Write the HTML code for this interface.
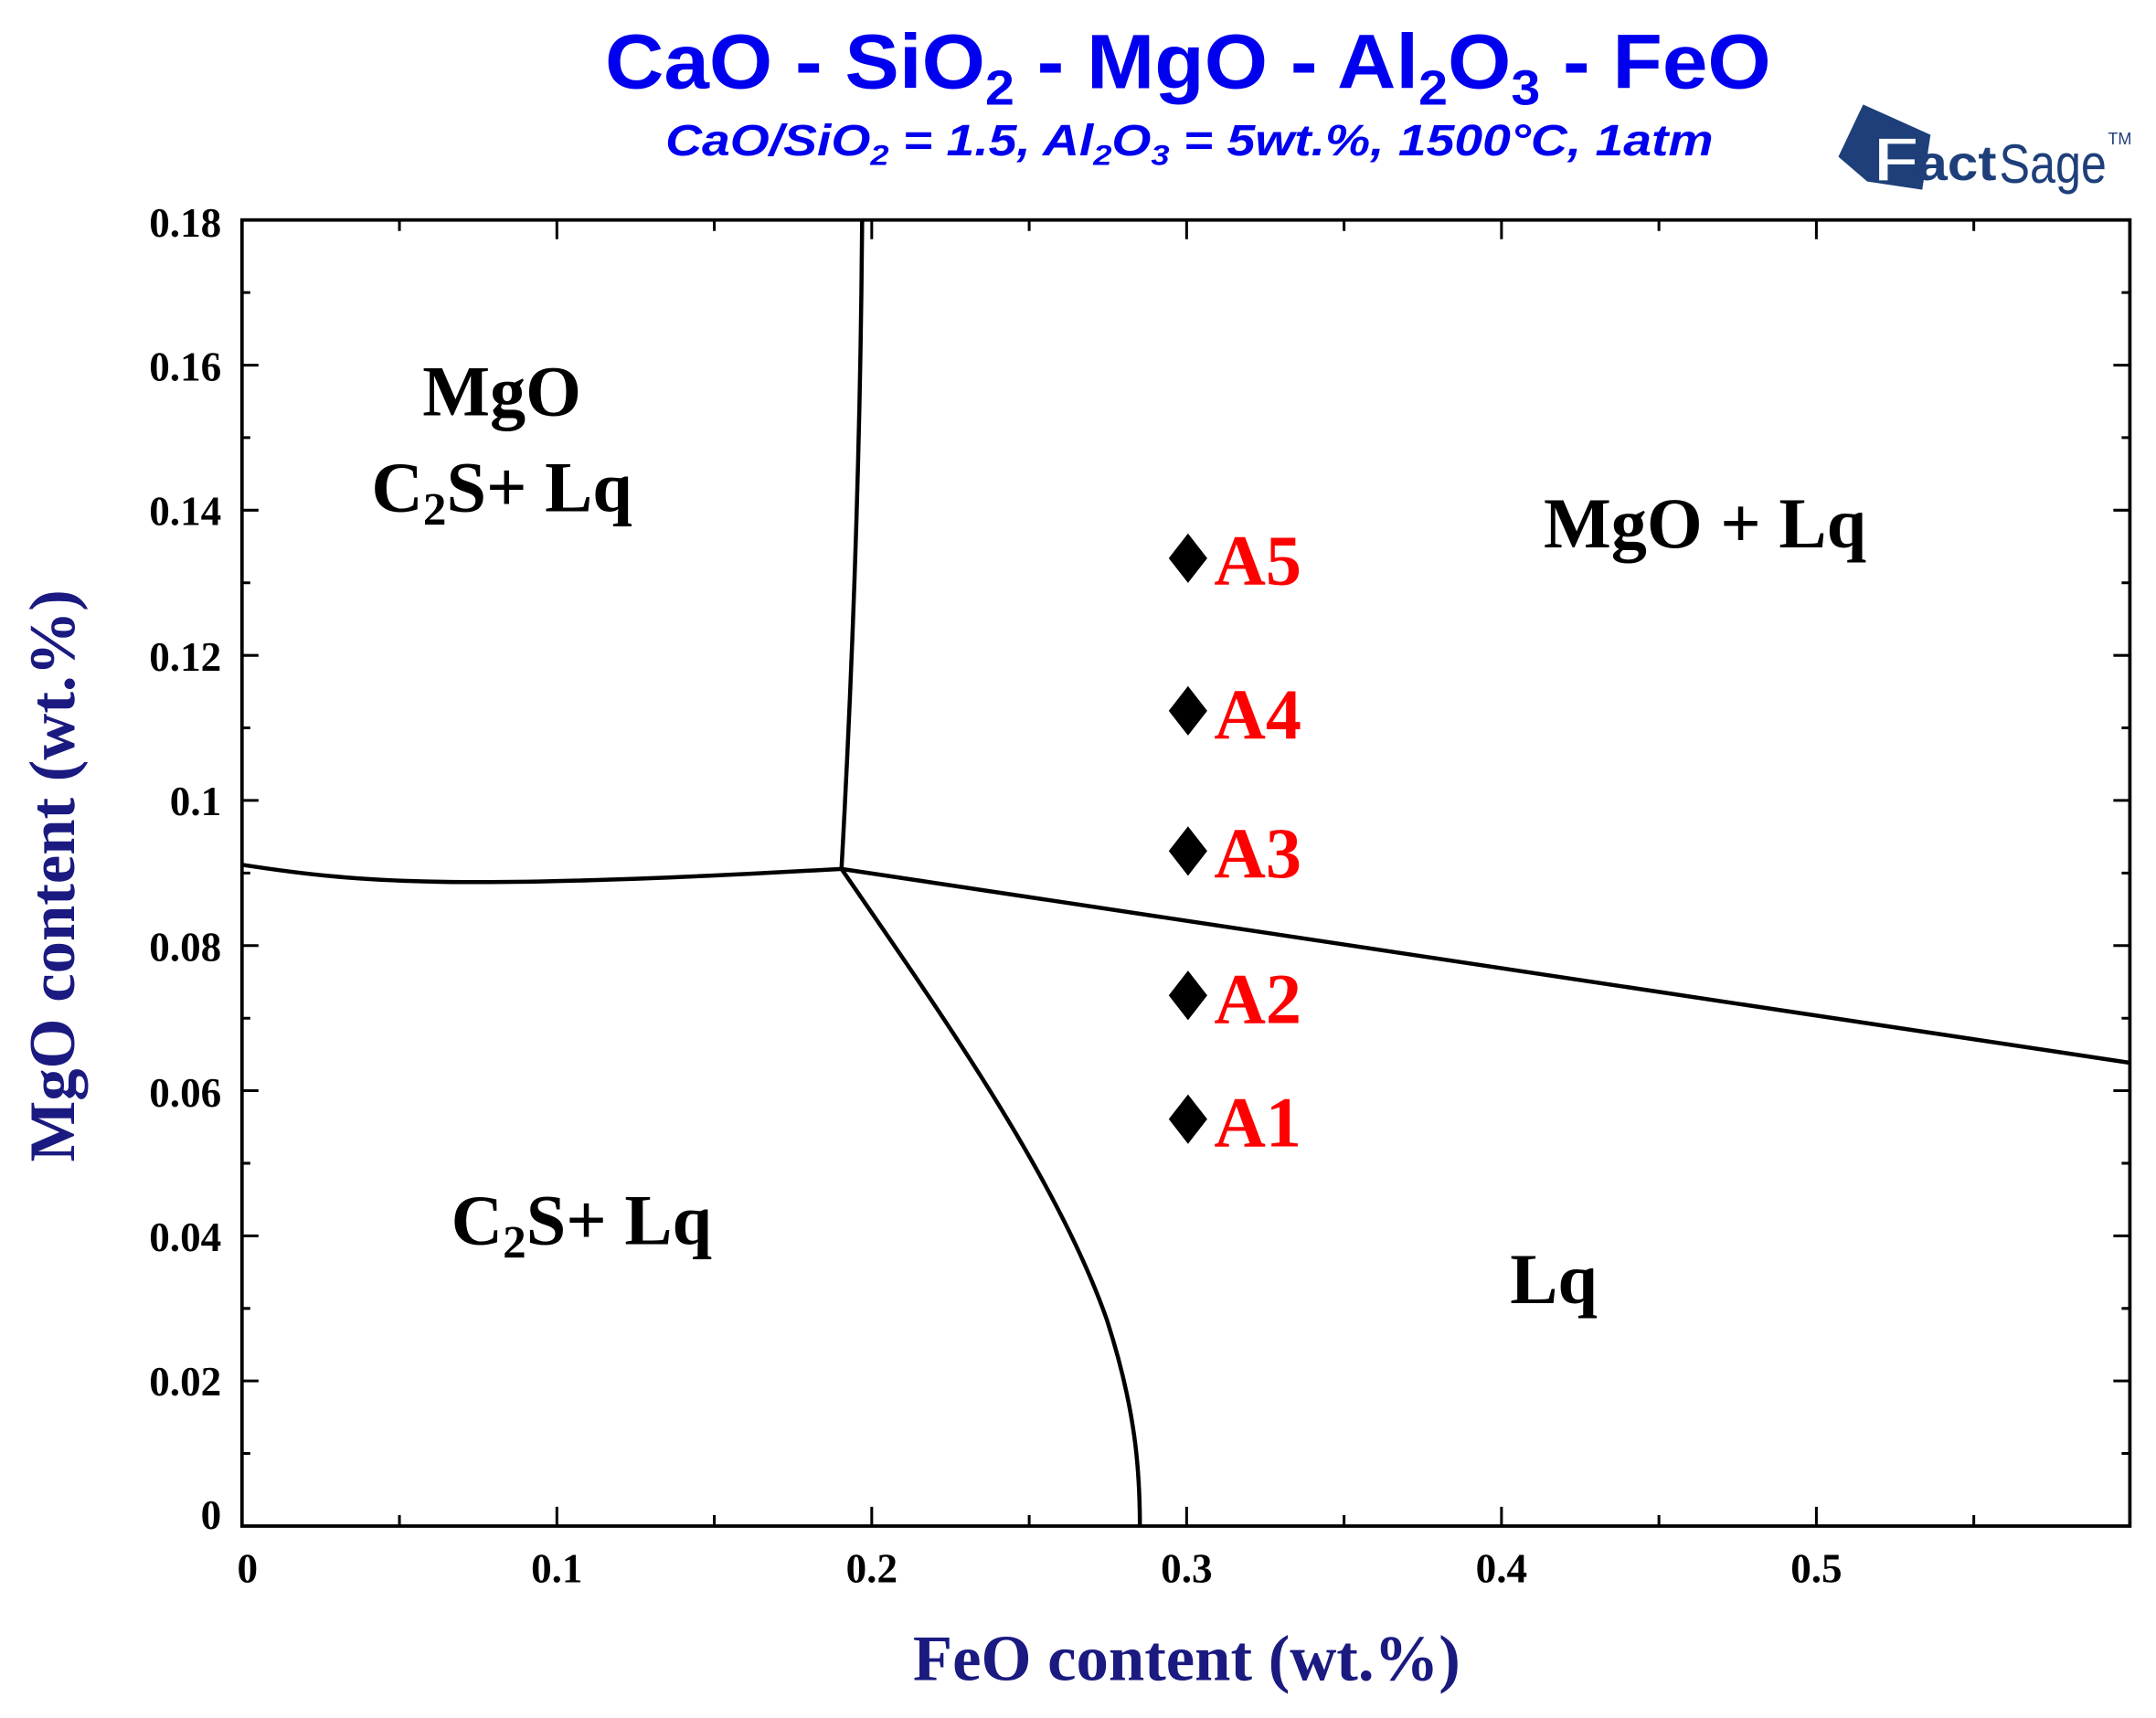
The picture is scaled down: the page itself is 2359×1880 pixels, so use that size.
<!DOCTYPE html>
<html><head><meta charset="utf-8"><style>
html,body{margin:0;padding:0;background:#fff;}
svg{display:block;}
</style></head><body>
<svg width="2359" height="1880" viewBox="0 0 1568 1249.6" preserveAspectRatio="none" xmlns="http://www.w3.org/2000/svg">
<rect width="1568" height="1250" fill="#fff"/>
<!-- titles -->
<text x="864" y="64" text-anchor="middle" font-family="Liberation Sans, sans-serif" font-weight="bold" font-size="56" fill="#0000ee" textLength="848" lengthAdjust="spacingAndGlyphs">CaO - SiO<tspan font-size="36" dy="12">2</tspan><tspan dy="-12"> - MgO - Al</tspan><tspan font-size="36" dy="12">2</tspan><tspan dy="-12">O</tspan><tspan font-size="36" dy="12">3</tspan><tspan dy="-12"> - FeO</tspan></text>
<text x="865" y="113" text-anchor="middle" font-family="Liberation Sans, sans-serif" font-weight="bold" font-style="italic" font-size="32" fill="#0000ee" textLength="762" lengthAdjust="spacingAndGlyphs">CaO/SiO<tspan font-size="21" dy="7">2</tspan><tspan dy="-7"> = 1.5, Al</tspan><tspan font-size="21" dy="7">2</tspan><tspan dy="-7">O</tspan><tspan font-size="21" dy="7">3</tspan><tspan dy="-7"> = 5wt.%, 1500°C, 1atm</tspan></text>
<!-- logo -->
<polygon points="1355,76 1404,98 1398,138 1358,132 1337,114" fill="#1e3f7a"/>
<text x="1362" y="132" font-family="Liberation Sans, sans-serif" font-weight="bold" font-size="46" fill="#fff" stroke="#1e3f7a" stroke-width="1.5" textLength="34" lengthAdjust="spacingAndGlyphs">F</text>
<text x="1394" y="131" font-family="Liberation Sans, sans-serif" font-weight="bold" font-size="36" fill="#1e3f7a" textLength="58" lengthAdjust="spacingAndGlyphs">act</text>
<text x="1454" y="133" font-family="Liberation Sans, sans-serif" font-size="40" fill="#1e3f7a" textLength="78" lengthAdjust="spacingAndGlyphs">Sage</text>
<text x="1533" y="105" font-family="Liberation Sans, sans-serif" font-size="12" fill="#1e3f7a">TM</text>
<!-- axes box -->
<rect x="176" y="160" width="1373" height="950" fill="none" stroke="#000" stroke-width="2.5"/>
<g stroke="#000" stroke-width="2">
<path d="M290.5,1110v-8M405,1110v-14M519.5,1110v-8M634,1110v-14M748.5,1110v-8M863,1110v-14M977.5,1110v-8M1092,1110v-14M1206.5,1110v-8M1321,1110v-14M1435.5,1110v-8"/>
<path d="M290.5,160v8M405,160v14M519.5,160v8M634,160v14M748.5,160v8M863,160v14M977.5,160v8M1092,160v14M1206.5,160v8M1321,160v14M1435.5,160v8"/>
<path d="M176,1057.2h6M176,1004.4h12M176,951.7h6M176,898.9h12M176,846.1h6M176,793.3h12M176,740.6h6M176,687.8h12M176,635h6M176,582.2h12M176,529.4h6M176,476.7h12M176,423.9h6M176,371.1h12M176,318.3h6M176,265.6h12M176,212.8h6"/>
<path d="M1549,1057.2h-6M1549,1004.4h-12M1549,951.7h-6M1549,898.9h-12M1549,846.1h-6M1549,793.3h-12M1549,740.6h-6M1549,687.8h-12M1549,635h-6M1549,582.2h-12M1549,529.4h-6M1549,476.7h-12M1549,423.9h-6M1549,371.1h-12M1549,318.3h-6M1549,265.6h-12M1549,212.8h-6"/>
</g>
<g font-family="Liberation Serif, serif" font-weight="bold" font-size="30" text-anchor="end" fill="#000">
<text x="161" y="1112">0</text><text x="161" y="1015">0.02</text><text x="161" y="910">0.04</text><text x="161" y="805">0.06</text><text x="161" y="699">0.08</text><text x="161" y="593">0.1</text><text x="161" y="488">0.12</text><text x="161" y="382">0.14</text><text x="161" y="277">0.16</text><text x="161" y="172">0.18</text>
</g>
<g font-family="Liberation Serif, serif" font-weight="bold" font-size="30" text-anchor="middle" fill="#000">
<text x="180" y="1151">0</text><text x="405" y="1151">0.1</text><text x="634" y="1151">0.2</text><text x="863" y="1151">0.3</text><text x="1092" y="1151">0.4</text><text x="1321" y="1151">0.5</text>
</g>
<text x="863" y="1222" text-anchor="middle" font-family="Liberation Serif, serif" font-weight="bold" font-size="47" fill="#1a1a80">FeO content (wt.%)</text>
<text transform="translate(54,637) rotate(-90)" text-anchor="middle" font-family="Liberation Serif, serif" font-weight="bold" font-size="47" fill="#1a1a80">MgO content (wt.%)</text>
<g fill="none" stroke="#000" stroke-width="3">
<path d="M627,160 C626,300 622,450 612,632"/>
<path d="M176,629 C260,642 330,648 612,632"/>
<path d="M612,632 L1549,773"/>
<path d="M612,632 C690,745 770,860 805,960 C826,1025 829,1070 829,1110"/>
</g>
<g font-family="Liberation Serif, serif" font-weight="bold" font-size="52" fill="#000" text-anchor="middle">
<text x="365" y="302">MgO</text>
<text x="365" y="372">C<tspan font-size="34" dy="10">2</tspan><tspan dy="-10">S+ Lq</tspan></text>
<text x="1240" y="398">MgO + Lq</text>
<text x="423" y="905">C<tspan font-size="34" dy="10">2</tspan><tspan dy="-10">S+ Lq</tspan></text>
<text x="1130" y="948">Lq</text>
</g>
<g fill="#000">
<polygon points="864,388 878,406 864,424 850,406"/>
<polygon points="864,499 878,517 864,535 850,517"/>
<polygon points="864,601 878,619 864,637 850,619"/>
<polygon points="864,706 878,724 864,742 850,724"/>
<polygon points="864,796 878,814 864,832 850,814"/>
</g>
<g font-family="Liberation Serif, serif" font-weight="bold" font-size="52" fill="#ff0000">
<text x="883" y="425">A5</text><text x="883" y="537">A4</text><text x="883" y="638">A3</text><text x="883" y="744">A2</text><text x="883" y="834">A1</text>
</g>
</svg>
</body></html>
